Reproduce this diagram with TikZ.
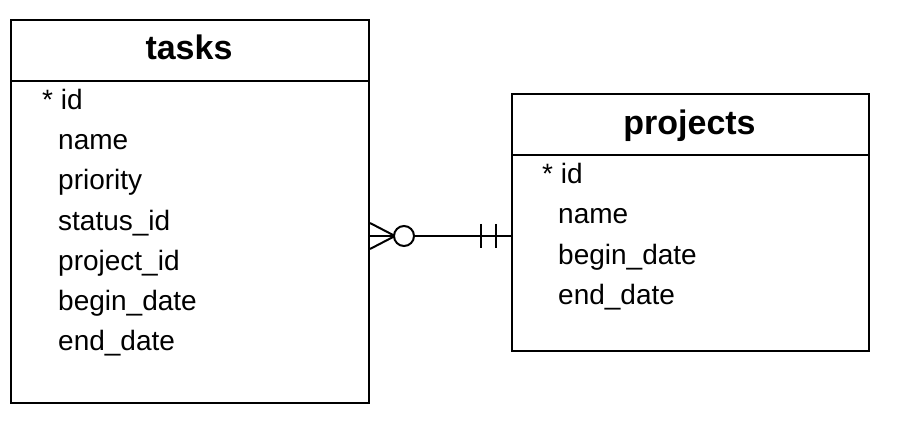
\documentclass[tikz,border=0pt]{standalone}
\usepackage{fontspec}
\setmainfont{Liberation Sans}
\usetikzlibrary{calc}
\begin{document}
\begin{tikzpicture}[x=1pt,y=-1pt,
  tbl/.style={draw, line width=2pt, anchor=north west, inner sep=0pt},
  ttl/.style={font=\fontsize{34}{40}\selectfont\bfseries, anchor=base, inner sep=0pt},
  fld/.style={font=\fontsize{28}{34}\selectfont, anchor=base west, inner sep=0pt},
  conn/.style={line width=2pt}]
\useasboundingbox (0,0) rectangle (902,422);
% tables
\node[tbl, minimum width=358pt, minimum height=383pt] (tasks) at (10,19) {};
\node[tbl, minimum width=357pt, minimum height=257pt] (projects) at (511,93) {};
\draw[line width=2pt] (10,81) -- (368,81);
\draw[line width=2pt] (511,155) -- (868,155);
\node[ttl] (tt) at (189,60) {tasks};
\node[ttl] (pt) at (689.5,135) {projects};
% tasks fields
\node[fld] (t1) at (42,110) {* id};
\node[fld] (t2) at (58,150) {name};
\node[fld] (t3) at (58,190) {priority};
\node[fld] (t4) at (58,230) {status\_id};
\node[fld] (t5) at (58,270) {project\_id};
\node[fld] (t6) at (58,310) {begin\_date};
\node[fld] (t7) at (58,350) {end\_date};
% projects fields
\node[fld] (p1) at (542,184) {* id};
\node[fld] (p2) at (558,224) {name};
\node[fld] (p3) at (558,264) {begin\_date};
\node[fld] (p4) at (558,304) {end\_date};
% connector
\coordinate (a) at (tasks.east |- 0,236);
\coordinate (b) at (projects.west |- 0,236);
\draw[conn] (a) -- (b);
% crow's foot + zero
\draw[conn] ($(a)+(0,-13)$) -- ($(a)+(25,0)$) -- ($(a)+(0,13)$);
\draw[conn, fill=white] ($(a)+(34,0)$) circle (10);
% one and only one
\draw[conn] ($(b)+(-30,-12)$) -- ($(b)+(-30,12)$);
\draw[conn] ($(b)+(-15,-12)$) -- ($(b)+(-15,12)$);
\end{tikzpicture}
\end{document}
